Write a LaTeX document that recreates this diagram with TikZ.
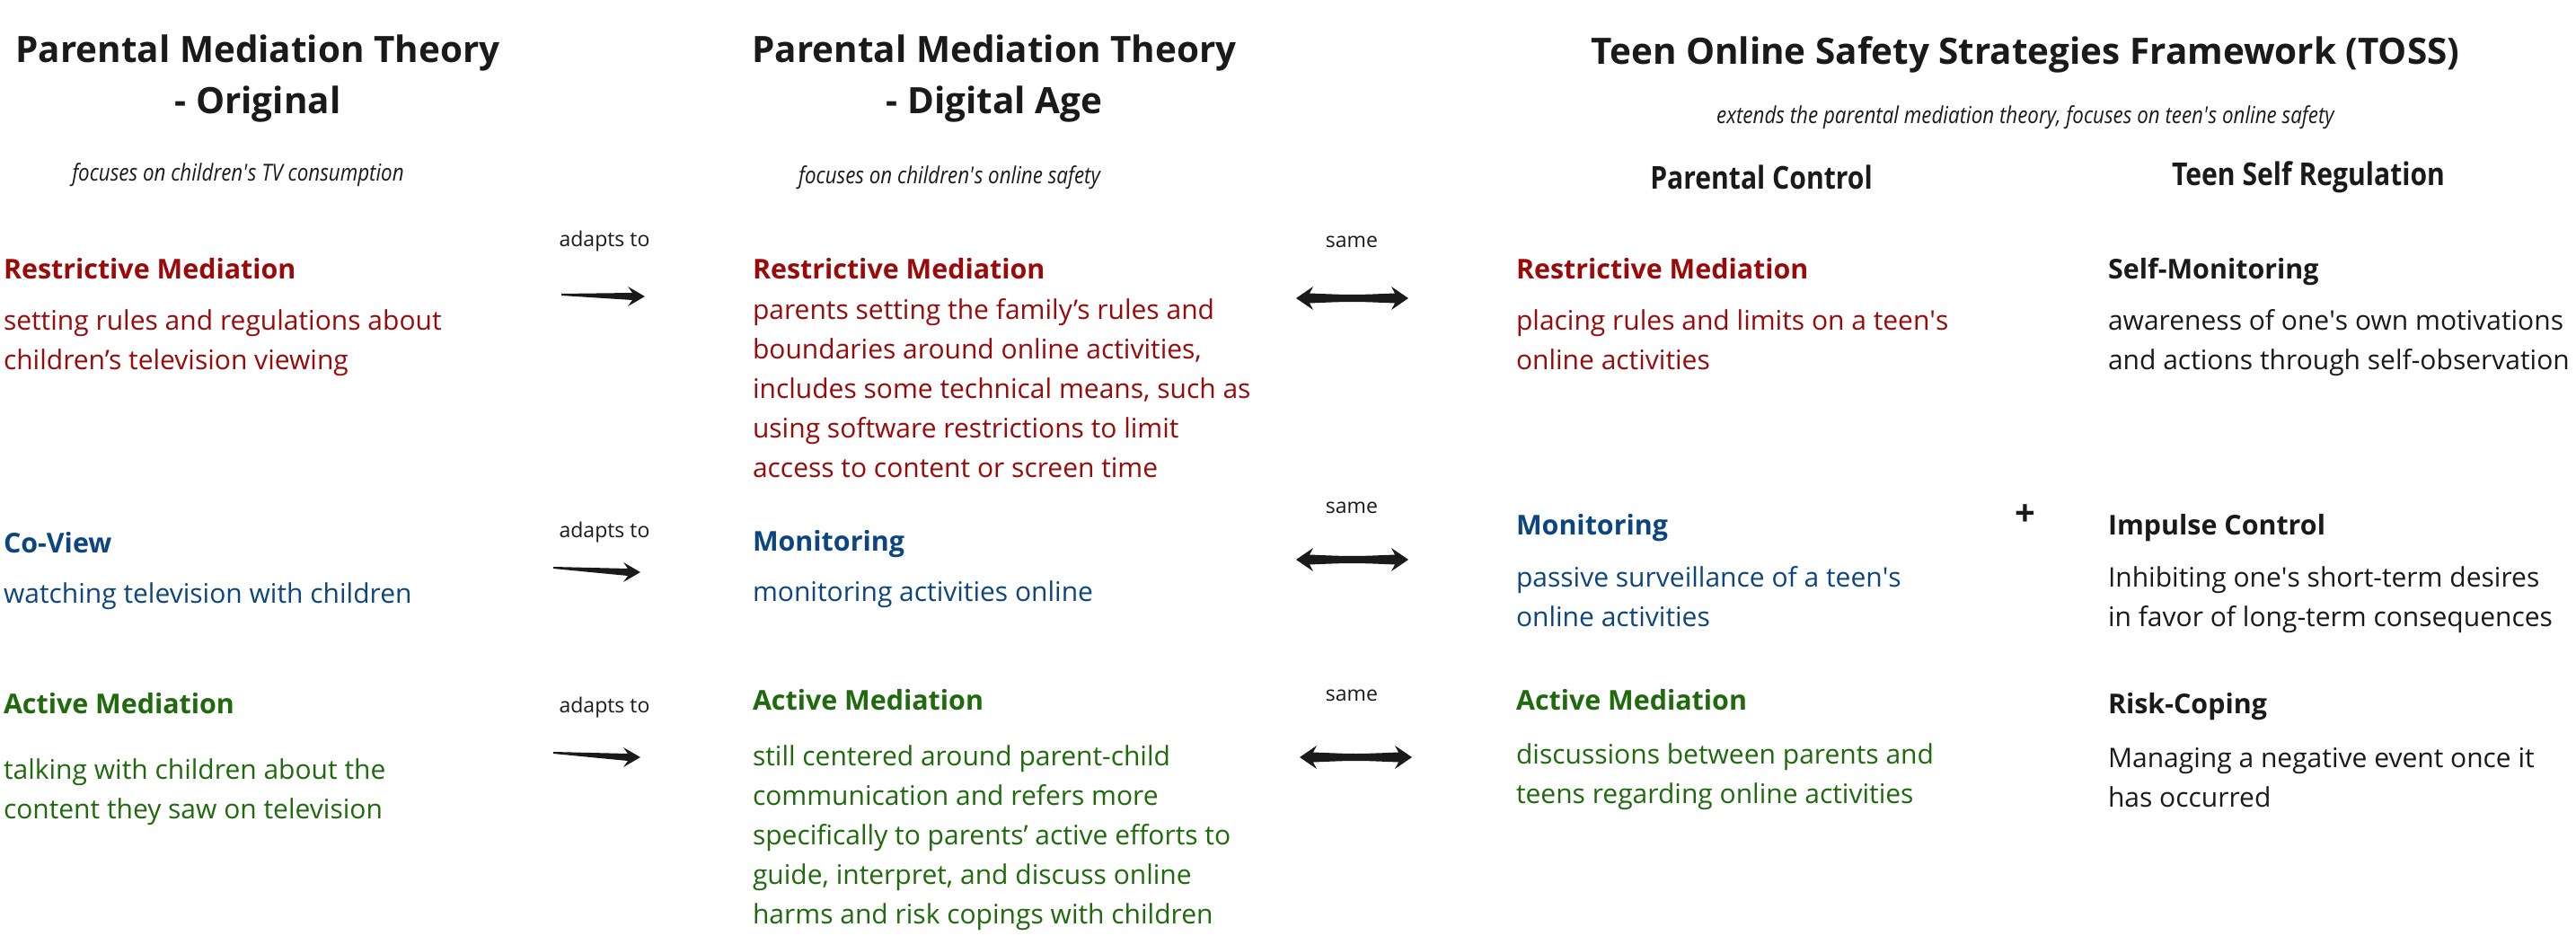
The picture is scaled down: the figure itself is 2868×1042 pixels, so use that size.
\documentclass[tikz,border=0pt]{standalone}
\usepackage{fontspec}
\setmainfont{Open Sans}
\newfontfamily\condfont[FakeStretch=0.86]{Open Sans}
\usetikzlibrary{calc}
\definecolor{pmred}{HTML}{9A0A0A}
\definecolor{pmblue}{HTML}{0D4580}
\definecolor{pmgreen}{HTML}{1E6A0C}
\definecolor{ink}{HTML}{1A1A1A}
\newcommand\sq{\textquotesingle}
\tikzset{
  every node/.style={inner sep=0pt, outer sep=0pt, text=ink},
  bigtitle/.style={font=\fontsize{20.2pt}{28.5pt}\selectfont\bfseries, align=center},
  subnote/.style={font=\condfont\fontsize{13pt}{15pt}\selectfont\itshape},
  colhead/.style={font=\condfont\fontsize{17.5pt}{20pt}\selectfont\bfseries},
  heading/.style={font=\fontsize{15.2pt}{18pt}\selectfont\bfseries, anchor=base west},
  body/.style={font=\fontsize{15pt}{22pt}\selectfont, align=left, anchor=north west},
  smalllab/.style={font=\fontsize{11.5pt}{13pt}\selectfont},
}
\newcommand\onearrow[2]{\fill[ink] ($(#1)+(0,-1)$) -- ($(#2)+(-14,-4)$) -- ($(#2)+(-19,-11)$) -- (#2) -- ($(#2)+(-19,11)$) -- ($(#2)+(-14,4)$) -- ($(#1)+(0,1)$) -- cycle;}
\newcommand\twoarrow[2]{\fill[ink] (#1) -- ($(#1)+(19,-13)$) -- ($(#1)+(15,-5.5)$) .. controls ($(#1)!0.5!(#2)+(0,-3.5)$) .. ($(#2)+(-15,-5.5)$) -- ($(#2)+(-19,-13)$) -- (#2) -- ($(#2)+(-19,13)$) -- ($(#2)+(-15,5.5)$) .. controls ($(#1)!0.5!(#2)+(0,3.5)$) .. ($(#1)+(15,5.5)$) -- ($(#1)+(19,13)$) -- cycle;}
\begin{document}
\begin{tikzpicture}[x=0.5pt, y=-0.5pt]
\useasboundingbox[fill=white] (0,0) rectangle (2868,1042);

% titles
\node[bigtitle] (t1) at (287,88) {Parental Mediation Theory\\- Original};
\node[bigtitle] (t2) at (1107,88) {Parental Mediation Theory\\- Digital Age};
\node[bigtitle] (t3) at (2255,61) {Teen Online Safety Strategies Framework (TOSS)};
\node[subnote] (s1) at (265,195) {focuses on children\sq s TV consumption};
\node[subnote] (s2) at (1057,198) {focuses on children\sq s online safety};
\node[subnote] (s3) at (2255,131) {extends the parental mediation theory, focuses on teen\sq s online safety};
\node[colhead] (h3) at (1961,197) {Parental Control};
\node[colhead] (h4) at (2570,197) {Teen Self Regulation};

% column 1
\node[heading, text=pmred] (a1) at (4,311) {Restrictive Mediation};
\node[body, text=pmred] (a1b) at (4,345) {setting rules and regulations about\\children’s television viewing};
\node[heading, text=pmblue] (a2) at (4,615) {Co-View};
\node[body, text=pmblue] (a2b) at (4,649) {watching television with children};
\node[heading, text=pmgreen] (a3) at (4,794) {Active Mediation};
\node[body, text=pmgreen] (a3b) at (4,845) {talking with children about the\\content they saw on television};

% column 2
\node[heading, text=pmred] (b1) at (838,311) {Restrictive Mediation};
\node[body, text=pmred] (b1b) at (838,333) {parents setting the family’s rules and\\boundaries around online activities,\\includes some technical means, such as\\using software restrictions to limit\\access to content or screen time};
\node[heading, text=pmblue] (b2) at (838,613) {Monitoring};
\node[body, text=pmblue] (b2b) at (838,647) {monitoring activities online};
\node[heading, text=pmgreen] (b3) at (838,790) {Active Mediation};
\node[body, text=pmgreen] (b3b) at (838,830) {still centered around parent-child\\communication and refers more\\specifically to parents’ active efforts to\\guide, interpret, and discuss online\\harms and risk copings with children};

% column 3
\node[heading, text=pmred] (c1) at (1688,311) {Restrictive Mediation};
\node[body, text=pmred] (c1b) at (1688,345) {placing rules and limits on a teen\sq s\\online activities};
\node[heading, text=pmblue] (c2) at (1688,596) {Monitoring};
\node[body, text=pmblue] (c2b) at (1688,631) {passive surveillance of a teen\sq s\\online activities};
\node[heading, text=pmgreen] (c3) at (1688,790) {Active Mediation};
\node[body, text=pmgreen] (c3b) at (1688,828) {discussions between parents and\\teens regarding online activities};

% column 4
\node[heading] (d1) at (2347,311) {Self-Monitoring};
\node[body] (d1b) at (2347,345) {awareness of one\sq s own motivations\\and actions through self-observation};
\node[heading] (d2) at (2347,596) {Impulse Control};
\node[body] (d2b) at (2347,631) {Inhibiting one\sq s short-term desires\\in favor of long-term consequences};
\node[heading] (d3) at (2347,794) {Risk-Coping};
\node[body] (d3b) at (2347,832) {Managing a negative event once it\\has occurred};

\node[font=\fontsize{20pt}{20pt}\selectfont\bfseries] (plus) at (2255,574) {+};

% labels
\node[smalllab] (l1) at (673,269) {adapts to};
\node[smalllab] (l2) at (673,593) {adapts to};
\node[smalllab] (l3) at (673,788) {adapts to};
\node[smalllab] (m1) at (1505,269) {same};
\node[smalllab] (m2) at (1505,565) {same};
\node[smalllab] (m3) at (1505,774) {same};

% arrows
\coordinate (p1s) at (625,328); \coordinate (p1e) at (718,330);
\coordinate (p2s) at (616,632); \coordinate (p2e) at (713,637);
\coordinate (p3s) at (616,838); \coordinate (p3e) at (713,843);
\onearrow{p1s}{p1e}
\onearrow{p2s}{p2e}
\onearrow{p3s}{p3e}
\coordinate (q1s) at (1443,332); \coordinate (q1e) at (1568,332);
\coordinate (q2s) at (1443,623); \coordinate (q2e) at (1568,623);
\coordinate (q3s) at (1447,843); \coordinate (q3e) at (1572,843);
\twoarrow{q1s}{q1e}
\twoarrow{q2s}{q2e}
\twoarrow{q3s}{q3e}
\end{tikzpicture}
\end{document}
